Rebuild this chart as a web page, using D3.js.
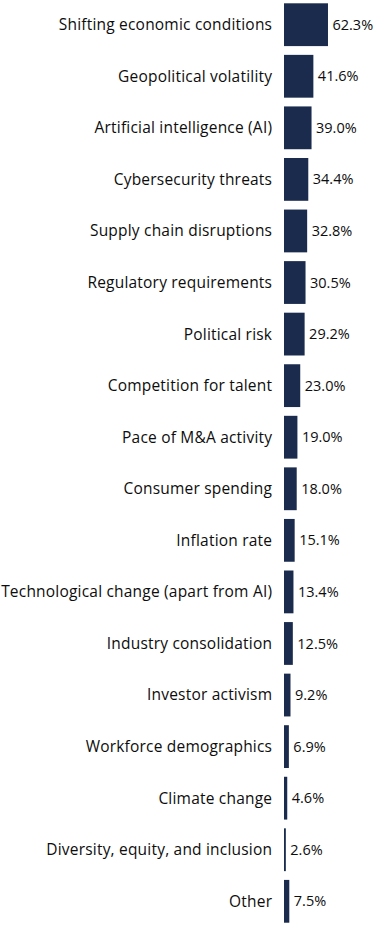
<!DOCTYPE html>
<html><head><meta charset="utf-8">
<script src="https://cdn.jsdelivr.net/npm/d3@7"></script>
<style>html,body{margin:0;padding:0;background:#fff;}</style>
</head><body>
<svg id="c" width="375" height="925"></svg>
<script>
const categories = ["Shifting economic conditions","Geopolitical volatility","Artificial intelligence (AI)","Cybersecurity threats","Supply chain disruptions","Regulatory requirements","Political risk","Competition for talent","Pace of M&A activity","Consumer spending","Inflation rate","Technological change (apart from AI)","Industry consolidation","Investor activism","Workforce demographics","Climate change","Diversity, equity, and inclusion","Other"];
const values = [62.3,41.6,39.0,34.4,32.8,30.5,29.2,23.0,19.0,18.0,15.1,13.4,12.5,9.2,6.9,4.6,2.6,7.5];
const valueLabels = ["62.3%","41.6%","39.0%","34.4%","32.8%","30.5%","29.2%","23.0%","19.0%","18.0%","15.1%","13.4%","12.5%","9.2%","6.9%","4.6%","2.6%","7.5%"];

const svg = d3.select("#c");
const y = d3.scaleBand().domain(categories).range([0, 926]).paddingInner(0.17).paddingOuter(0.064);
const x = d3.scaleLinear().domain([0, 100]).range([284, 284 + 70.6]);
const font = "'Open Sans', sans-serif";
const data = categories.map((c, i) => ({c, v: values[i], l: valueLabels[i]}));

svg.selectAll("rect").data(data).join("rect")
  .attr("x", x(0)).attr("y", d => y(d.c))
  .attr("width", d => x(d.v) - x(0)).attr("height", y.bandwidth())
  .attr("fill", "#1a2b4d");

svg.selectAll("text.cat").data(data).join("text").attr("class","cat")
  .attr("x", 272.2).attr("y", d => y(d.c) + y.bandwidth()/2)
  .attr("dy", "0.35em").attr("text-anchor", "end")
  .attr("font-family", font).attr("font-size", 15.5).attr("letter-spacing", "0.2px")
  .attr("fill", "#0d0d0d")
  .text(d => d.c);

svg.selectAll("text.val").data(data).join("text").attr("class","val")
  .attr("x", d => x(d.v) + 4.5).attr("y", d => y(d.c) + y.bandwidth()/2)
  .attr("dy", "0.35em")
  .attr("font-family", font).attr("font-size", 14.5).attr("fill", "#0d0d0d")
  .text(d => d.l);
</script>
</body></html>
